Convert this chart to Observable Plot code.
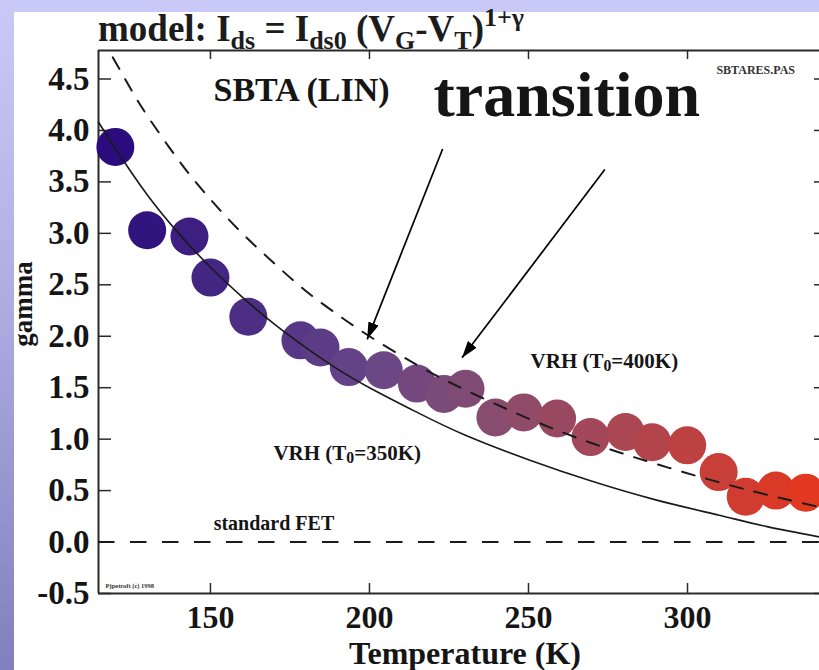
<!DOCTYPE html>
<html>
<head>
<meta charset="utf-8">
<script src="https://cdn.jsdelivr.net/npm/d3@7"></script>
<script src="https://cdn.jsdelivr.net/npm/@observablehq/plot@0.6"></script>
<style>
  html, body { margin: 0; padding: 0; }
  #wrap { position: relative; width: 819px; height: 670px; overflow: hidden;
          background: linear-gradient(to bottom, #cacaf8 0%, #adade2 45%, #8080be 100%); }
  #paper { position: absolute; left: 14px; top: 12px; right: 0; bottom: 0; background: #fff; }
  #chart { position: absolute; left: 0; top: 0; }
  #title { position: absolute; left: 98px; top: 10px; font: bold 37px "Liberation Serif", "Times New Roman", serif;
           color: #1c1c1c; white-space: nowrap; line-height: 37px; }
  #title sub, #title sup { font-size: 26px; line-height: 0; }
  #title sub { vertical-align: -8px; }
  #title sup { vertical-align: 15px; }
</style>
</head>
<body>
<div id="wrap">
  <div id="paper"></div>
  <div id="chart"></div>
  <div id="title">model: I<sub>ds</sub> = I<sub>ds0</sub> (V<sub>G</sub>-V<sub>T</sub>)<sup>1+&gamma;</sup></div>
</div>
<script>
// ---- data ----
const temperature = [120.1, 130.1, 143.4, 150.0, 161.9, 178.3, 184.6, 193.5, 204.5, 214.9, 223.4, 230.2,
                     239.6, 248.5, 259.0, 269.5, 280.5, 288.9, 299.9, 309.8, 318.3, 327.8, 337.2];
const gammaValues = [3.84, 3.03, 2.97, 2.57, 2.19, 1.96, 1.89, 1.70, 1.67, 1.54, 1.44, 1.49,
                     1.21, 1.26, 1.20, 1.02, 1.07, 0.97, 0.94, 0.68, 0.44, 0.50, 0.48];

// VRH model curve, T0 = 350 K (solid)
const vrh350T = [114.8, 120, 130, 140, 150, 160, 170, 180, 190, 200, 215, 230, 250, 270, 290, 310, 325, 341.5];
const vrh350G = [4.08, 3.83, 3.38, 3.00, 2.67, 2.38, 2.12, 1.89, 1.68, 1.50, 1.26, 1.04, 0.80, 0.59, 0.41, 0.26, 0.15, 0.05];

// VRH model curve, T0 = 400 K (dashed)
const vrh400T = [119.3, 125, 130, 140, 150, 160, 170, 180, 190, 200, 215, 230, 250, 270, 290, 310, 325, 341.5];
const vrh400G = [4.71, 4.40, 4.15, 3.71, 3.33, 3.00, 2.71, 2.44, 2.21, 2.00, 1.72, 1.48, 1.20, 0.96, 0.76, 0.58, 0.46, 0.34];

// standard FET: gamma = 0
const fetGamma = [0];

// axis ticks
const xTicks = [150, 200, 250, 300];
const yTicks = [-0.5, 0, 0.5, 1.0, 1.5, 2.0, 2.5, 3.0, 3.5, 4.0, 4.5];
const xDomain = [114.8, 341.5];
const yDomain = [-0.5, 4.777];

// annotation anchors (data units)
const noteText = ["SBTA (LIN)", "transition", "SBTARES.PAS", "VRH (T0=400K)", "VRH (T0=350K)", "standard FET", "Pjpetroft (c) 1998"];
const noteT    = [150.96, 220.14, 309.09, 250.65, 169.8, 151.0, 117.0];
const noteG    = [4.291, 4.145, 4.553, 1.696, 0.802, 0.12, -0.442];

// arrows from "transition" to the curve
const arrowT1 = [223.0, 274.0];
const arrowG1 = [3.82, 3.62];
const arrowT2 = [199.3, 229.1];
const arrowG2 = [1.97, 1.79];

// ---- build tables ----
const points = temperature.map((T, i) => ({T, g: gammaValues[i]}));
const vrh350 = vrh350T.map((T, i) => ({T, g: vrh350G[i]}));
const vrh400 = vrh400T.map((T, i) => ({T, g: vrh400G[i]}));
const notes = noteText.map((text, i) => ({text, T: noteT[i], g: noteG[i]}));
const arrows = arrowT1.map((T, i) => ({T1: T, G1: arrowG1[i], T2: arrowT2[i], G2: arrowG2[i]}));

const W = 819, H = 670, ML = 98, MR = 0, MT = 50, MB = 77;
const PW = W - ML - MR, PH = H - MT - MB;
const serif = "'Liberation Serif', 'Times New Roman', serif";
const ink = "#151515";

function filledArrow(color, context) {
  const ns = "http://www.w3.org/2000/svg";
  const doc = (context && context.document) || document;
  const m = doc.createElementNS(ns, "marker");
  m.setAttribute("viewBox", "-17 -6 17 12");
  m.setAttribute("markerWidth", 17);
  m.setAttribute("markerHeight", 12);
  m.setAttribute("markerUnits", "userSpaceOnUse");
  m.setAttribute("orient", "auto");
  m.setAttribute("refX", 0);
  m.setAttribute("refY", 0);
  const p = doc.createElementNS(ns, "path");
  p.setAttribute("d", "M-17,-5.5L0,0L-17,5.5Z");
  p.setAttribute("fill", color);
  p.setAttribute("stroke", "none");
  m.appendChild(p);
  return m;
}

function note(i, opts) {
  return Plot.text([notes[i]], Object.assign({x: "T", y: "g", text: "text", textAnchor: "start", lineAnchor: "bottom",
    fontFamily: serif, fontWeight: "bold", fill: ink}, opts));
}

function build(marker) {
  return Plot.plot({
    width: W, height: H,
    marginLeft: ML, marginRight: MR, marginTop: MT, marginBottom: MB,
    x: {domain: xDomain},
    y: {domain: yDomain},
    color: {type: "linear", domain: [120, 160, 200, 240, 280, 337],
            range: ["#2a0c7c", "#4b2d84", "#684688", "#874c6e", "#ab4653", "#e2381f"], interpolate: "rgb"},
    style: {background: "transparent", fontFamily: serif, color: ink, overflow: "visible"},
    marks: [
      // frame (left, bottom, top)
      Plot.ruleX([xDomain[0]], {stroke: "#2a2a2a", strokeWidth: 2}),
      Plot.ruleY([yDomain[0], yDomain[1]], {stroke: "#2a2a2a", strokeWidth: 2}),
      // inward ticks
      Plot.ruleY(yTicks, {y: d => d, insetRight: PW - 13, stroke: "#2a2a2a", strokeWidth: 1.5}),
      Plot.ruleY(yTicks, {y: d => d, insetLeft: PW - 5, stroke: "#2a2a2a", strokeWidth: 1.5}),
      Plot.ruleX(xTicks, {x: d => d, insetTop: PH - 10, stroke: "#2a2a2a", strokeWidth: 1.5}),
      Plot.ruleX(xTicks, {x: d => d, insetBottom: PH - 9, stroke: "#2a2a2a", strokeWidth: 1.5}),
      // tick labels
      Plot.axisY(yTicks, {anchor: "left", tickSize: 0, tickPadding: 9, fontSize: 33, fontWeight: "bold",
                          tickFormat: d => d.toFixed(1), label: null, fill: ink}),
      Plot.axisX(xTicks, {anchor: "bottom", tickSize: 0, tickPadding: 12, fontSize: 32, fontWeight: "bold",
                          tickFormat: d => String(d), label: null, fill: ink}),
      // axis titles
      Plot.text(["gamma"], {frameAnchor: "left", dx: -75, dy: -18, rotate: -90, fontSize: 27, fontWeight: "bold",
                            fill: ink, textAnchor: "middle", lineAnchor: "middle"}),
      Plot.text(["Temperature (K)"], {frameAnchor: "bottom", dx: 6, dy: 70, fontSize: 32, fontWeight: "bold",
                                      fill: ink, textAnchor: "middle", lineAnchor: "bottom"}),
      // standard FET line
      Plot.ruleY(fetGamma, {y: d => d, stroke: "#1a1a1a", strokeWidth: 2, strokeDasharray: "16.5,15.5"}),
      // data
      Plot.dot(points, {x: "T", y: "g", r: 19, fill: "T", stroke: null}),
      // model curves
      Plot.line(vrh350, {x: "T", y: "g", curve: "natural", stroke: "#1a1a1a", strokeWidth: 1.6}),
      Plot.line(vrh400, {x: "T", y: "g", curve: "natural", stroke: "#1a1a1a", strokeWidth: 2, strokeDasharray: "13,12"}),
      // arrows
      Plot.link(arrows, {x1: "T1", y1: "G1", x2: "T2", y2: "G2", stroke: "#000", strokeWidth: 1.7, markerEnd: marker}),
      // annotations
      note(0, {fontSize: 34}),
      note(1, {fontSize: 64}),
      note(2, {fontSize: 12, fill: "#333"}),
      note(3, {fontSize: 21}),
      note(4, {fontSize: 21}),
      note(5, {fontSize: 20}),
      note(6, {fontSize: 6.5, fill: "#333"})
    ]
  });
}

let chart;
try { chart = build(filledArrow); } catch (e) { chart = build("arrow"); }

// subscripts for T0
const ns = "http://www.w3.org/2000/svg";
chart.querySelectorAll("text").forEach(t => {
  if (t.children.length) return;
  const m = t.textContent.match(/^(.*T)0(=.*)$/);
  if (!m) return;
  t.textContent = "";
  const a = document.createElementNS(ns, "tspan"); a.textContent = m[1];
  const b = document.createElementNS(ns, "tspan"); b.textContent = "0";
  b.setAttribute("font-size", "0.75em"); b.setAttribute("dy", "0.25em");
  const c = document.createElementNS(ns, "tspan"); c.textContent = m[2];
  c.setAttribute("dy", "-0.1875em");
  t.append(a, b, c);
});

document.getElementById("chart").appendChild(chart);
</script>
</body>
</html>
